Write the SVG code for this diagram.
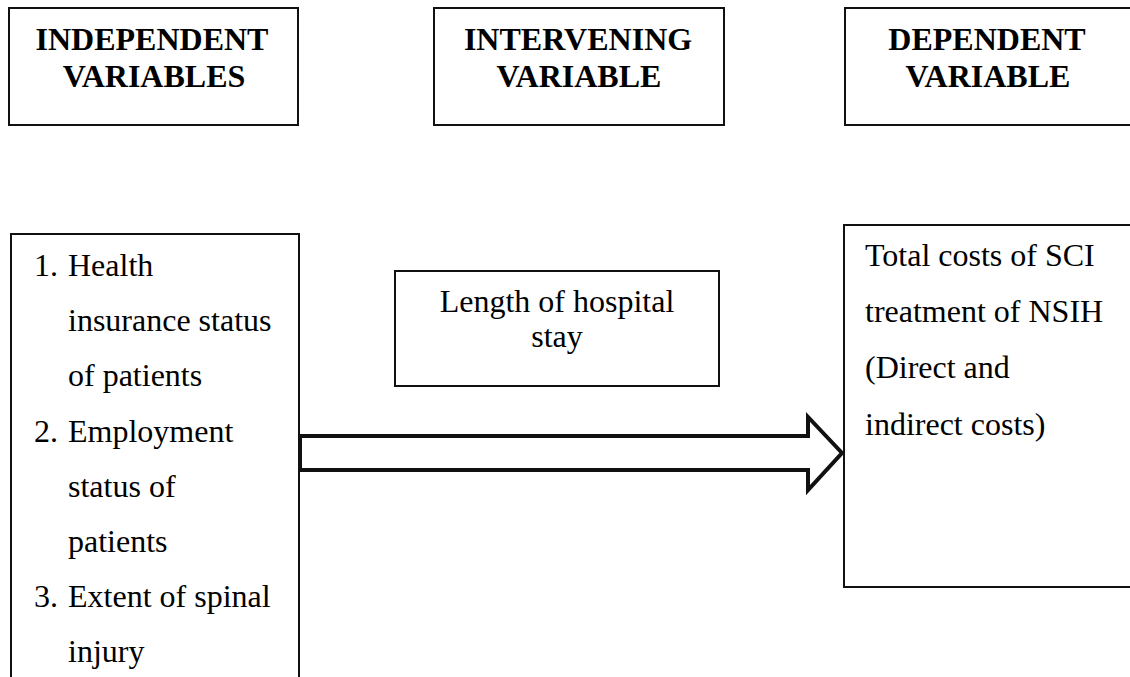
<svg xmlns="http://www.w3.org/2000/svg" width="1130" height="677" viewBox="0 0 1130 677">
<style>
.box{fill:#fff;stroke:#111;stroke-width:2}
.hd{font-family:"Liberation Serif",serif;font-weight:bold;font-size:32px;fill:#000;text-anchor:middle}
.tx{font-family:"Liberation Serif",serif;font-size:32px;fill:#000}
.tm{font-family:"Liberation Serif",serif;font-size:32px;fill:#000;text-anchor:middle}
.arrow{fill:#fff;stroke:#111;stroke-width:4;stroke-linejoin:miter}
</style>
<rect width="1130" height="677" fill="#fff"/>
<g id="independent-header">
<rect class="box" x="9" y="8" width="289" height="117"/>
<text class="hd" x="152" y="50">INDEPENDENT</text>
<text class="hd" x="154" y="87">VARIABLES</text>
</g>
<g id="intervening-header">
<rect class="box" x="434" y="8" width="290" height="117"/>
<text class="hd" x="578" y="50">INTERVENING</text>
<text class="hd" x="579" y="87">VARIABLE</text>
</g>
<g id="dependent-header">
<rect class="box" x="845" y="8" width="292" height="117"/>
<text class="hd" x="987" y="50">DEPENDENT</text>
<text class="hd" x="988" y="87">VARIABLE</text>
</g>
<g id="independent-vars">
<rect class="box" x="11" y="234" width="288" height="460"/>
<text class="tx" x="34" y="276">1.</text>
<text class="tx" x="68" y="276">Health</text>
<text class="tx" x="68" y="331">insurance status</text>
<text class="tx" x="68" y="386">of patients</text>
<text class="tx" x="34" y="442">2.</text>
<text class="tx" x="68" y="442">Employment</text>
<text class="tx" x="68" y="497">status of</text>
<text class="tx" x="68" y="552">patients</text>
<text class="tx" x="34" y="607">3.</text>
<text class="tx" x="68" y="607">Extent of spinal</text>
<text class="tx" x="68" y="662">injury</text>
</g>
<g id="intervening-var">
<rect class="box" x="395" y="271" width="324" height="115"/>
<text class="tm" x="557" y="312">Length of hospital</text>
<text class="tm" x="557" y="347">stay</text>
</g>
<g id="dependent-var">
<rect class="box" x="844" y="225" width="296" height="362"/>
<text class="tx" x="865" y="266">Total costs of SCI</text>
<text class="tx" x="865" y="322">treatment of NSIH</text>
<text class="tx" x="865" y="378">(Direct and</text>
<text class="tx" x="865" y="435">indirect costs)</text>
</g>
<g id="connectors">
<path class="arrow" d="M300,436 H808 V417 L842,453 L808,490 V470 H300 Z"/>
</g>
</svg>
